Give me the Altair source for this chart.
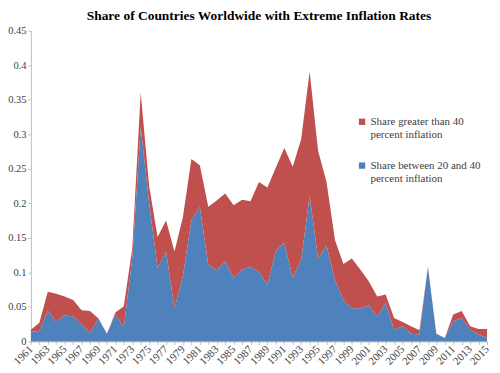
import altair as alt
import pandas as pd

years = list(range(1961, 2016))
share_20_40 = [0.014, 0.015, 0.044, 0.029, 0.038, 0.036, 0.024, 0.013, 0.033, 0.011,
               0.039, 0.021, 0.120, 0.310, 0.200, 0.106, 0.130, 0.048, 0.095, 0.175,
               0.195, 0.111, 0.103, 0.116, 0.092, 0.104, 0.108, 0.101, 0.082, 0.132,
               0.143, 0.092, 0.118, 0.211, 0.120, 0.139, 0.089, 0.060, 0.048, 0.048,
               0.052, 0.036, 0.056, 0.017, 0.022, 0.011, 0.010, 0.108, 0.011, 0.005,
               0.029, 0.034, 0.017, 0.010, 0.005]
share_over_40 = [0.003, 0.012, 0.028, 0.040, 0.027, 0.024, 0.021, 0.031, 0.000, 0.000,
                 0.003, 0.030, 0.015, 0.050, 0.025, 0.045, 0.045, 0.082, 0.085, 0.089,
                 0.060, 0.084, 0.101, 0.098, 0.105, 0.101, 0.095, 0.130, 0.141, 0.120,
                 0.137, 0.161, 0.175, 0.180, 0.156, 0.092, 0.058, 0.052, 0.072, 0.056,
                 0.035, 0.029, 0.012, 0.017, 0.006, 0.011, 0.006, 0.000, 0.000, 0.000,
                 0.010, 0.010, 0.005, 0.008, 0.013]
series_names = ["Share greater than 40|percent inflation",
                "Share between 20 and 40|percent inflation"]
series_colors = ["#C0504D", "#4F81BD"]
y_ticks = [0, 0.05, 0.1, 0.15, 0.2, 0.25, 0.3, 0.35, 0.4, 0.45]

rows = []
for i, yr in enumerate(years):
    rows.append({"year": yr, "series": series_names[1], "value": share_20_40[i], "ord": 0})
    rows.append({"year": yr, "series": series_names[0], "value": share_over_40[i], "ord": 1})
df = pd.DataFrame(rows)

font = "Liberation Serif, Times New Roman, serif"

chart = alt.Chart(df).mark_area(interpolate="linear").encode(
    x=alt.X("year:Q", scale=alt.Scale(domain=[1961, 2015], nice=False, zero=False),
            axis=alt.Axis(values=years, format="d", title=None, grid=False,
                          labelExpr="datum.value % 2 == 1 ? datum.label : ''",
                          labelAngle=-45, labelAlign="right", labelBaseline="middle",
                          labelFont=font, labelFontSize=11, labelColor="#404040",
                          labelOverlap=False, labelPadding=3,
                          tickSize=3, tickColor="#BFBFBF", domainColor="#BFBFBF")),
    y=alt.Y("value:Q", stack="zero", scale=alt.Scale(domain=[0, 0.45], nice=False),
            axis=alt.Axis(values=y_ticks, format="~g", title=None, grid=False,
                          labelFont=font, labelFontSize=10.5, labelColor="#404040",
                          labelPadding=2, tickSize=3, tickColor="#BFBFBF",
                          domainColor="#BFBFBF")),
    color=alt.Color("series:N", scale=alt.Scale(domain=series_names, range=series_colors),
                    legend=alt.Legend(title=None, orient="none", legendX=327, legendY=86,
                                      symbolType="square", symbolSize=40,
                                      symbolStrokeWidth=0, labelOffset=3,
                                      labelExpr="split(datum.label, '|')",
                                      labelFont=font, labelFontSize=11,
                                      labelColor="#404040", labelLimit=200,
                                      rowPadding=19)),
    order=alt.Order("ord:Q"),
).properties(
    width=458, height=312,
    title=alt.TitleParams("Share of Countries Worldwide with Extreme Inflation Rates",
                          font=font, fontSize=13.5, fontWeight="bold", color="#000000",
                          anchor="middle", offset=3),
    autosize=alt.AutoSizeParams(type="none"),
    padding={"left": 23, "top": 22, "right": 5, "bottom": 31},
).configure_view(stroke=None)

chart.save("out.html", embed_options={"renderer": "svg", "actions": False})
